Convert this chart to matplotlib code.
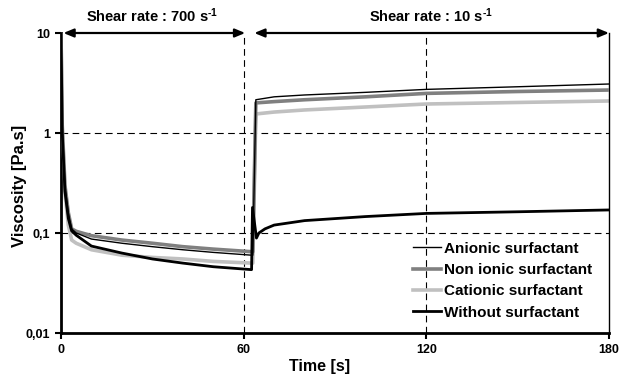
import matplotlib
matplotlib.use("Agg")
import matplotlib.pyplot as plt
from matplotlib.ticker import FixedLocator, NullLocator

plt.rcParams['font.family'] = ['Liberation Sans', 'DejaVu Sans']
plt.rcParams['font.weight'] = 'bold'
plt.rcParams['mathtext.fontset'] = 'custom'
plt.rcParams['mathtext.rm'] = 'Liberation Sans:bold'
plt.rcParams['mathtext.bf'] = 'Liberation Sans:bold'
plt.rcParams['mathtext.default'] = 'rm'

# ---- data ----
t_shear = [0, 0.4, 1.3, 2.4, 3.5, 5, 10, 20, 30, 40, 50, 62.6]
t_rest = [63.0, 64.0, 70, 80, 100, 120, 150, 180]

anionic_a = [10, 1.2, 0.30, 0.16, 0.11, 0.100, 0.087, 0.079, 0.073, 0.068, 0.064, 0.060]
anionic_b = [0.060, 2.15, 2.30, 2.40, 2.55, 2.73, 2.90, 3.09]

nonionic_a = [10, 1.2, 0.30, 0.16, 0.11, 0.104, 0.094, 0.085, 0.079, 0.073, 0.069, 0.065]
nonionic_b = [0.065, 2.00, 2.06, 2.15, 2.30, 2.49, 2.60, 2.69]

cationic_a = [10, 1.0, 0.25, 0.12, 0.085, 0.079, 0.068, 0.060, 0.057, 0.055, 0.052, 0.050]
cationic_b = [0.050, 1.55, 1.62, 1.70, 1.82, 1.95, 2.02, 2.09]

t_without = [0, 0.4, 1.3, 2.4, 3.5, 5, 10, 20, 30, 40, 50, 62.6, 62.9, 64.2, 65, 67, 70, 80, 100, 120, 150, 180]
without = [10, 1.0, 0.26, 0.14, 0.105, 0.095, 0.074, 0.063, 0.055, 0.050, 0.046, 0.043,
           0.18, 0.089, 0.100, 0.110, 0.120, 0.133, 0.146, 0.157, 0.163, 0.170]

labels = ["Anionic surfactant", "Non ionic surfactant", "Cationic surfactant", "Without surfactant"]
x_ticks = [0, 60, 120, 180]
y_ticks = [0.01, 0.1, 1, 10]
y_ticklabels = ["0,01", "0,1", "1", "10"]

fig = plt.figure(figsize=(6.19, 3.79), dpi=100)
ax = fig.add_axes([61/619, 46/379, 548/619, 300/379])

ax.plot(t_shear + t_rest, anionic_a + anionic_b, color="black", lw=1.0, label=labels[0], zorder=5)
ax.plot(t_shear + t_rest, nonionic_a + nonionic_b, color="#808080", lw=2.6, label=labels[1], zorder=3)
ax.plot(t_shear + t_rest, cationic_a + cationic_b, color="#c0c0c0", lw=2.6, label=labels[2], zorder=2)
ax.plot(t_without, without, color="black", lw=2.0, label=labels[3], zorder=4)

ax.set_yscale("log")
ax.set_xlim(0, 180)
ax.set_ylim(0.01, 10)
ax.xaxis.set_major_locator(FixedLocator(x_ticks))
ax.set_xticklabels([str(v) for v in x_ticks])
ax.yaxis.set_major_locator(FixedLocator(y_ticks))
ax.yaxis.set_minor_locator(NullLocator())
ax.set_yticklabels(y_ticklabels)
ax.tick_params(axis="both", direction="out", length=4, width=1.5, labelsize=9, pad=4)
for lab in ax.get_xticklabels() + ax.get_yticklabels():
    lab.set_fontweight("bold")

for v in [1, 0.1]:
    ax.axhline(v, color="black", lw=0.8, ls=(0, (6, 4)), zorder=1)
for v in [60, 120]:
    ax.axvline(v, color="black", lw=0.8, ls=(0, (6, 4)), zorder=1)

ax.spines["left"].set_linewidth(2)
ax.spines["bottom"].set_linewidth(2)
ax.spines["right"].set_linewidth(1)
ax.spines["top"].set_visible(False)

# shear-rate arrows
arrow_kw = dict(arrowstyle="<|-|>,head_length=0.6,head_width=0.25", color="black", lw=1.6,
                shrinkA=0, shrinkB=0)
ax.annotate("", xy=(0.8, 10), xytext=(60.5, 10), arrowprops=arrow_kw, annotation_clip=False)
ax.annotate("", xy=(63.5, 10), xytext=(180, 10), arrowprops=arrow_kw, annotation_clip=False)
ax.text(30, 10 * 10**(0.08), r"Shear rate : 700 s$^{\text{-}1}$", ha="center", va="bottom",
        fontsize=10.5, fontweight="bold")
ax.text(121.5, 10 * 10**(0.08), r"Shear rate : 10 s$^{\text{-}1}$", ha="center", va="bottom",
        fontsize=10.5, fontweight="bold")

ax.set_xlabel("Time [s]", fontsize=11.5, fontweight="bold")
ax.xaxis.set_label_coords(0.472, -0.088)
ax.set_ylabel("Viscosity [Pa.s]", fontsize=12, fontweight="bold")
ax.yaxis.set_label_coords(-0.062, 0.49)

leg = ax.legend(loc="upper left", bbox_to_anchor=(0.629, 0.33), frameon=False,
                borderpad=0, handlelength=1.8, handletextpad=0.2, labelspacing=0.48,
                prop={"size": 11, "weight": "bold"})

fig.savefig("out.png", dpi=100)
